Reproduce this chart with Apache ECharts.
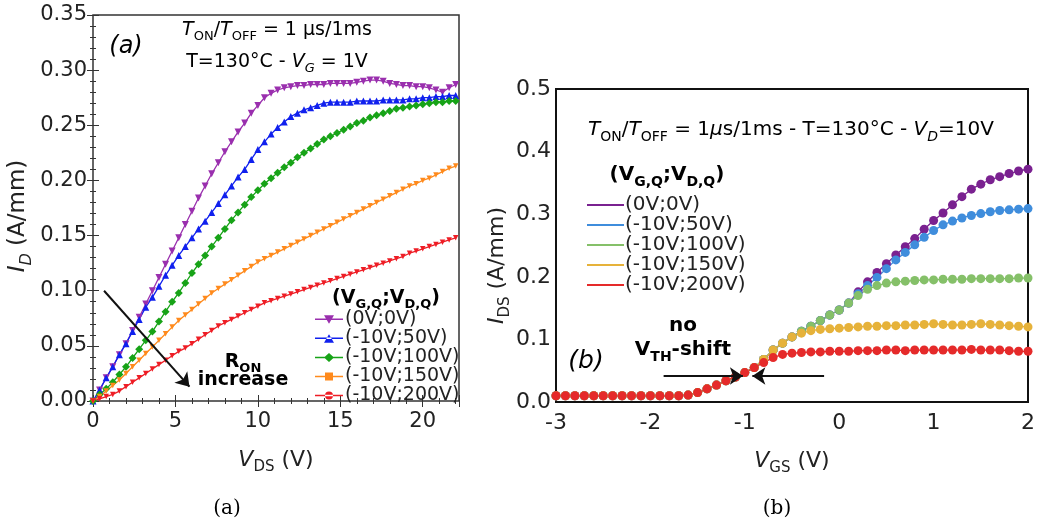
<!DOCTYPE html>
<html><head><meta charset="utf-8">
<script src="https://cdn.jsdelivr.net/npm/echarts@6/dist/echarts.min.js"></script>
<style>html,body{margin:0;padding:0;background:#fff}#c{width:1038px;height:527px}</style>
</head><body><div id="c"></div>
<script>
// ---------- Panel (a): I_D vs V_DS ----------
const vdsA = [0,0.4,0.8,1.2,1.6,2,2.4,2.8, 3.2,3.6,4,4.4,4.8,5.2,5.6,6, 6.4,6.8,7.2,7.6,8,8.4,8.8,9.2, 9.6,10,10.4,10.8,11.2,11.6,12,12.4, 12.8,13.2,13.6,14,14.4,14.8,15.2,15.6, 16,16.4,16.8,17.2,17.6,18,18.4,18.8, 19.2,19.6,20,20.4,20.8,21.2,21.6,22];
const idA_0_0 = [0,0.010,0.021,0.031,0.042,0.052,0.064,0.076, 0.088,0.100,0.112,0.124,0.136,0.148,0.160,0.172, 0.184,0.195,0.206,0.216,0.226,0.235,0.244,0.252, 0.261,0.268,0.275,0.279,0.282,0.284,0.285,0.286, 0.286,0.287,0.287,0.287,0.288,0.288,0.288,0.288, 0.289,0.290,0.291,0.291,0.290,0.288,0.287,0.286, 0.286,0.285,0.285,0.284,0.282,0.280,0.284,0.287];
const idA_10_50 = [0,0.010,0.021,0.031,0.042,0.052,0.063,0.074, 0.085,0.094,0.104,0.114,0.123,0.132,0.140,0.148, 0.156,0.163,0.171,0.179,0.187,0.195,0.203,0.210, 0.219,0.228,0.235,0.242,0.248,0.253,0.258,0.261, 0.264,0.266,0.268,0.270,0.271,0.271,0.271,0.271, 0.272,0.272,0.272,0.272,0.273,0.273,0.273,0.273, 0.274,0.274,0.275,0.275,0.276,0.276,0.277,0.277];
const idA_10_100 = [0,0.006,0.011,0.017,0.024,0.031,0.039,0.047, 0.055,0.063,0.072,0.081,0.090,0.098,0.107,0.116, 0.124,0.132,0.140,0.148,0.156,0.164,0.171,0.178, 0.185,0.191,0.197,0.202,0.207,0.212,0.216,0.221, 0.225,0.229,0.233,0.237,0.240,0.243,0.246,0.249, 0.252,0.254,0.257,0.259,0.261,0.263,0.265,0.266, 0.267,0.268,0.269,0.270,0.271,0.271,0.272,0.272];
const idA_10_150 = [0,0.004,0.009,0.014,0.019,0.025,0.031,0.037, 0.043,0.049,0.055,0.061,0.067,0.073,0.078,0.083, 0.088,0.093,0.098,0.102,0.106,0.110,0.114,0.118, 0.122,0.126,0.129,0.132,0.135,0.138,0.141,0.144, 0.147,0.150,0.153,0.156,0.159,0.162,0.165,0.168, 0.171,0.174,0.177,0.180,0.183,0.186,0.189,0.192, 0.195,0.197,0.200,0.202,0.205,0.208,0.211,0.213];
const idA_10_200 = [0,0.002,0.004,0.006,0.009,0.013,0.017,0.021, 0.025,0.029,0.033,0.037,0.041,0.045,0.048,0.052, 0.056,0.060,0.064,0.068,0.071,0.074,0.077,0.080, 0.083,0.086,0.089,0.091,0.093,0.095,0.097,0.099, 0.101,0.103,0.105,0.107,0.109,0.111,0.113,0.115, 0.117,0.119,0.121,0.123,0.125,0.127,0.129,0.131, 0.134,0.136,0.138,0.140,0.142,0.144,0.146,0.148];

// ---------- Panel (b): I_DS vs V_GS ----------
const vgsB = [-3,-2.9,-2.8,-2.7,-2.6,-2.5,-2.4,-2.3,-2.2,-2.1,-2,-1.9,-1.8,-1.7,-1.6,-1.5,-1.4,-1.3,-1.2,-1.1,-1,-0.9,-0.8,-0.7,-0.6,-0.5,-0.4,-0.3,-0.2,-0.1,0,0.1,0.2,0.3,0.4,0.5,0.6,0.7,0.8,0.9,1,1.1,1.2,1.3,1.4,1.5,1.6,1.7,1.8,1.9,2];
const idsB_0_0 = [0.010,0.010,0.010,0.010,0.010,0.010,0.010,0.010,0.010,0.010,0.010,0.010,0.010,0.010,0.011,0.015,0.021,0.027,0.034,0.040,0.047,0.055,0.068,0.083,0.094,0.104,0.113,0.121,0.130,0.139,0.147,0.158,0.176,0.192,0.207,0.221,0.235,0.248,0.261,0.276,0.290,0.302,0.315,0.328,0.340,0.348,0.355,0.360,0.365,0.369,0.372];
const idsB_10_50 = [0.010,0.010,0.010,0.010,0.010,0.010,0.010,0.010,0.010,0.010,0.010,0.010,0.010,0.010,0.011,0.015,0.021,0.027,0.034,0.040,0.047,0.055,0.068,0.083,0.094,0.104,0.113,0.121,0.130,0.139,0.147,0.158,0.173,0.186,0.199,0.213,0.227,0.239,0.251,0.263,0.274,0.283,0.289,0.294,0.298,0.301,0.304,0.306,0.307,0.308,0.309];
const idsB_10_100 = [0.010,0.010,0.010,0.010,0.010,0.010,0.010,0.010,0.010,0.010,0.010,0.010,0.010,0.010,0.011,0.015,0.021,0.027,0.034,0.040,0.047,0.055,0.068,0.083,0.094,0.104,0.113,0.121,0.130,0.139,0.147,0.158,0.170,0.180,0.186,0.190,0.192,0.193,0.194,0.195,0.195,0.196,0.196,0.196,0.197,0.197,0.197,0.197,0.197,0.198,0.198];
const idsB_10_150 = [0.010,0.010,0.010,0.010,0.010,0.010,0.010,0.010,0.010,0.010,0.010,0.010,0.010,0.010,0.011,0.015,0.021,0.027,0.034,0.040,0.047,0.055,0.068,0.083,0.094,0.104,0.110,0.114,0.116,0.117,0.118,0.119,0.120,0.121,0.121,0.122,0.122,0.123,0.123,0.124,0.125,0.124,0.123,0.123,0.124,0.125,0.124,0.123,0.122,0.121,0.120];
const idsB_10_200 = [0.010,0.010,0.010,0.010,0.010,0.010,0.010,0.010,0.010,0.010,0.010,0.010,0.010,0.010,0.011,0.015,0.021,0.027,0.034,0.040,0.047,0.055,0.063,0.071,0.076,0.078,0.079,0.080,0.080,0.081,0.081,0.081,0.082,0.082,0.082,0.083,0.083,0.082,0.083,0.083,0.083,0.083,0.083,0.083,0.084,0.083,0.083,0.083,0.082,0.081,0.081];

const seriesNames = ['(0V;0V)','(-10V;50V)','(-10V;100V)','(-10V;150V)','(-10V;200V)'];
const xTickStepA = 5, yTickStepA = 0.05, xTickStepB = 1, yTickStepB = 0.1;

const FONT = 'DejaVu Sans';
const INK = '#222';
const colorsA = ['#9a2fae','#1020ee','#17a317','#ff8a1c','#ee1d25'];
const colorsB = ['#7a2190','#3f8ddc','#85c069','#e6b23a','#e52a2a'];
const symA = [
  {symbol:'triangle', rot:180, size:7},
  {symbol:'triangle', rot:0, size:7},
  {symbol:'diamond', rot:0, size:8},
  {symbol:'triangle', rot:180, size:5.5},
  {symbol:'triangle', rot:180, size:5.5}
];
const LINE = 'M0,4.3L28,4.3L28,5.7L0,5.7Z ';
const iconsA = [
  'path://' + LINE + 'M9,1L19,1L14,9.5Z',
  'path://' + LINE + 'M9,9.5L19,9.5L14,1Z',
  'path://' + LINE + 'M14,0.5L19,5L14,9.5L9,5Z',
  'path://' + LINE + 'M10,1L18,1L18,9L10,9Z',
  'path://' + LINE + 'M10,5A4,4 0 1,0 18,5A4,4 0 1,0 10,5Z'
];

function rich(size, bold) {
  const w = bold ? 'bold' : 'normal';
  const L = size + 2;
  const ss = Math.round(size * 0.68);
  const Ls = L + Math.round(size * 0.6);
  const base = {fontFamily: FONT, fontWeight: w, color: INK};
  return {
    n: Object.assign({}, base, {fontSize: size, lineHeight: L, verticalAlign: 'top'}),
    i: Object.assign({}, base, {fontSize: size, lineHeight: L, verticalAlign: 'top', fontStyle: 'italic'}),
    s: Object.assign({}, base, {fontSize: ss, lineHeight: Ls, verticalAlign: 'middle'}),
    si: Object.assign({}, base, {fontSize: ss, lineHeight: Ls, verticalAlign: 'middle', fontStyle: 'italic'})
  };
}
function txt(x, yc, text, size, bold, family) {
  const hasSub = /\{s/.test(text);
  const L = size + 2, Ls = L + Math.round(size * 0.6);
  const y = hasSub ? yc + Ls / 2 - size / 2 : yc;
  const r = rich(size, bold);
  if (family) { Object.keys(r).forEach(k => r[k].fontFamily = family); }
  return {type: 'text', x: x, y: y, z: 50, silent: true,
    style: {text: text, rich: r, align: 'center', verticalAlign: 'middle', textAlign: 'center', textVerticalAlign: 'middle'}};
}

const seriesA = seriesNames.map((n, k) => ({
  name: n, type: 'line', xAxisIndex: 0, yAxisIndex: 0,
  data: vdsA.map((x, j) => [x, [idA_0_0, idA_10_50, idA_10_100, idA_10_150, idA_10_200][k][j]]),
  symbol: symA[k].symbol, symbolRotate: symA[k].rot, symbolSize: symA[k].size,
  itemStyle: {color: colorsA[k]}, lineStyle: {color: colorsA[k], width: 1.3},
  animation: false, silent: true
}));
seriesA[4].markLine = {
  silent: true, symbol: ['none', 'arrow'], symbolSize: 13, label: {show: false},
  lineStyle: {color: '#111', width: 2, type: 'solid'}, animation: false,
  data: [[{coord: [0.67, 0.1]}, {coord: [5.85, 0.013]}]]
};
const seriesB = seriesNames.map((n, k) => ({
  name: n + ' ', type: 'line', xAxisIndex: 2, yAxisIndex: 2,
  data: vgsB.map((x, j) => [x, [idsB_0_0, idsB_10_50, idsB_10_100, idsB_10_150, idsB_10_200][k][j]]),
  symbol: 'circle', symbolSize: 9,
  itemStyle: {color: colorsB[k]}, lineStyle: {color: colorsB[k], width: 1.3},
  animation: false, silent: true
}));
seriesB[4].markLine = {
  silent: true, symbol: ['none', 'arrow'], symbolSize: 13, label: {show: false},
  lineStyle: {color: '#111', width: 2, type: 'solid'}, animation: false,
  data: [
    [{coord: [-1.86, 0.0415]}, {coord: [-1.02, 0.0415]}],
    [{coord: [-0.16, 0.0415]}, {coord: [-0.92, 0.0415]}]
  ]
};

const tickA = {show: true, inside: true, length: 6, lineStyle: {color: '#333', width: 1}};
const minorA = {show: true, splitNumber: 5, length: 3, lineStyle: {color: '#333', width: 1}};
const lblA = {fontFamily: FONT, fontSize: 21, color: INK};
const lblB = {fontFamily: FONT, fontSize: 22, color: INK};

const option = {
  animation: false,
  backgroundColor: '#fff',
  grid: [
    {left: 93, top: 15, width: 366, height: 386, show: true, borderColor: '#333', borderWidth: 1.5, backgroundColor: 'transparent'},
    {left: 556, top: 89, width: 475, height: 313, show: true, borderColor: '#111', borderWidth: 2, backgroundColor: 'transparent'}
  ],
  xAxis: [
    {gridIndex: 0, type: 'value', min: 0, max: 22.2, interval: xTickStepA,
     axisLine: {show: false}, axisTick: tickA, minorTick: minorA, splitLine: {show: false},
     axisLabel: Object.assign({margin: 10, showMaxLabel: false}, lblA),
     name: '{i|V}{s|DS}{n| (V)}', nameLocation: 'middle', nameGap: 48,
     nameTextStyle: {rich: rich(22, false)}},
    {gridIndex: 0, type: 'value', position: 'top', min: 0, max: 22.2, interval: xTickStepA,
     axisLine: {show: false}, axisTick: tickA, minorTick: minorA, splitLine: {show: false}, axisLabel: {show: false}},
    {gridIndex: 1, type: 'value', min: -3, max: 2, interval: xTickStepB,
     axisLine: {show: false}, axisTick: {show: false}, splitLine: {show: false},
     axisLabel: Object.assign({margin: 10}, lblB),
     name: '{i|V}{s|GS}{n| (V)}', nameLocation: 'middle', nameGap: 48,
     nameTextStyle: {rich: rich(22, false)}}
  ],
  yAxis: [
    {gridIndex: 0, type: 'value', min: 0, max: 0.35, interval: yTickStepA,
     axisLine: {show: false}, axisTick: tickA, minorTick: minorA, splitLine: {show: false},
     axisLabel: Object.assign({margin: 6, formatter: v => v.toFixed(2)}, lblA),
     name: '{i|I}{si|D}{n| (A/mm)}', nameLocation: 'middle', nameGap: 47,
     nameTextStyle: {rich: rich(23, false), padding: [0, 16, 0, 0]}},
    {gridIndex: 0, type: 'value', position: 'right', min: 0, max: 0.35, interval: yTickStepA,
     axisLine: {show: false}, axisTick: tickA, minorTick: minorA, splitLine: {show: false}, axisLabel: {show: false}},
    {gridIndex: 1, type: 'value', min: 0, max: 0.5, interval: yTickStepB,
     axisLine: {show: false}, axisTick: {show: false}, splitLine: {show: false},
     axisLabel: Object.assign({margin: 5, formatter: v => v.toFixed(1)}, lblB),
     name: '{i|I}{s|DS}{n| (A/mm)}', nameLocation: 'middle', nameGap: 30,
     nameTextStyle: {rich: rich(22, false), padding: [0, 40, 0, 0]}}
  ],
  legend: [
    {orient: 'vertical', left: 315, top: 310, padding: 0, itemWidth: 28, itemHeight: 10, itemGap: 0,
     selectedMode: false,
     data: seriesNames.map((n, k) => ({name: n, icon: iconsA[k]})),
     textStyle: {fontFamily: FONT, fontSize: 19, lineHeight: 17.3, color: INK, padding: [0, 0, 0, -3]}},
    {orient: 'vertical', left: 587, top: 195, padding: 0, itemWidth: 37, itemHeight: 2, itemGap: 0,
     selectedMode: false,
     data: seriesNames.map(n => ({name: n + ' ', icon: 'rect'})),
     textStyle: {fontFamily: FONT, fontSize: 20, lineHeight: 19.5, color: INK, padding: [0, 0, 0, -4]}}
  ],
  graphic: [
    txt(277, 30, '{i|T}{s|ON}{n|/}{i|T}{s|OFF}{n| = 1 μs/1ms}', 19, false),
    txt(277, 62, '{n|T=130°C - }{i|V}{si|G}{n| = 1V}', 19, false),
    txt(126, 48, '{i|(a)}', 24, false),
    txt(243, 362, '{n|R}{s|ON}', 19, true),
    txt(243, 381, '{n|increase}', 19, true),
    txt(386, 298, '{n|(V}{s|G,Q}{n|;V}{s|D,Q}{n|)}', 19, true),
    txt(791, 130, '{i|T}{s|ON}{n|/}{i|T}{s|OFF}{n| = 1}{i|μ}{n|s/1ms - T=130°C - }{i|V}{si|D}{n|=10V}', 20, false),
    txt(667, 175, '{n|(V}{s|G,Q}{n|;V}{s|D,Q}{n|)}', 20, true),
    txt(683, 327, '{n|no}', 20, true),
    txt(683, 350, '{n|V}{s|TH}{n|-shift}', 20, true),
    txt(586, 362, '{i|(b)}', 25, false),
    txt(227, 510, '{n|(a)}', 20, false, 'DejaVu Serif'),
    txt(777, 510, '{n|(b)}', 20, false, 'DejaVu Serif')
  ],
  series: seriesA.concat(seriesB)
};
const chart = echarts.init(document.getElementById('c'), null, {renderer: 'canvas'});
chart.setOption(option);
</script></body></html>
